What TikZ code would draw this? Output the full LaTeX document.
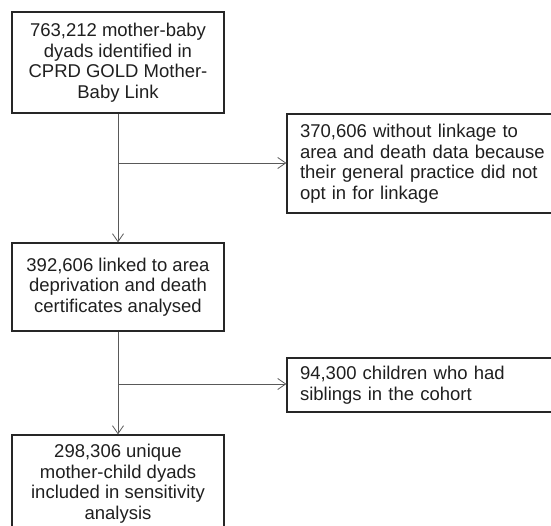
\documentclass[tikz,border=0pt]{standalone}
\usepackage{fontspec}
\setmainfont{Liberation Sans}
\usetikzlibrary{arrows.meta}
\begin{document}
\begin{tikzpicture}[x=1pt,y=-1pt,
  font=\fontsize{18.5}{20.5}\selectfont,
  mainbox/.style={draw=black!85, line width=1.2pt, text=black!88, align=center, minimum width=212pt, inner sep=0pt},
  sidebox/.style={draw=black!85, line width=1.2pt, text=black!88, align=left, text width=287pt, inner xsep=13pt, inner ysep=0pt},
  conn/.style={draw=black!65, line width=0.8pt},
  arr/.style={conn, -{Straight Barb[length=8pt,width=11pt,line width=0.8pt]}}]
\useasboundingbox (0,0) rectangle (551,526);
\node[mainbox, minimum height=101pt] (b1) at (118,62.5) {763,212 mother-baby\\dyads identified in\\CPRD GOLD Mother-\\Baby Link};
\node[sidebox, minimum height=99pt] (b2) at (443.5,163.5) {370,606 without linkage to\\area and death data because\\their general practice did not\\opt in for linkage};
\node[mainbox, minimum height=88pt] (b3) at (118,287) {392,606 linked to area\\deprivation and death\\certificates analysed};
\node[sidebox, minimum height=54pt] (b4) at (443.5,385) {94,300 children who had\\siblings in the cohort};
\node[mainbox, minimum height=97pt] (b5) at (118,483.5) {298,306 unique\\mother-child dyads\\included in sensitivity\\analysis};
\coordinate (j1) at (118,163);
\coordinate (j2) at (118,384);
\draw[arr] (b1.south) -- (b3.north);
\draw[arr] (j1) -- (j1 -| b2.west);
\draw[arr] (b3.south) -- (b5.north);
\draw[arr] (j2) -- (j2 -| b4.west);
\end{tikzpicture}
\end{document}
